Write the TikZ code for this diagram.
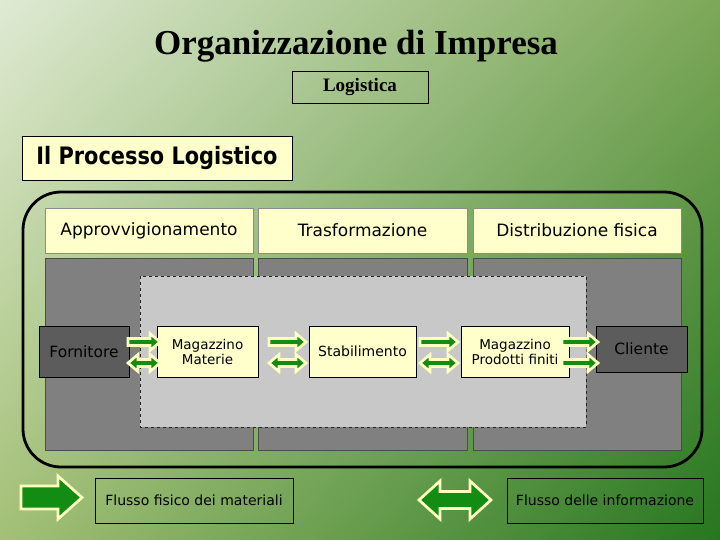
\documentclass[tikz,border=0pt]{standalone}
\usepackage{fontspec}
\usepackage{graphicx}
\usetikzlibrary{shadings}
\setmainfont{Liberation Serif}
\newfontfamily\dv{DejaVu Sans}
\definecolor{paley}{HTML}{FFFFCC}
\definecolor{arrowy}{HTML}{FFFFC0}
\definecolor{agreen}{HTML}{128C12}
\definecolor{colgray}{HTML}{808080}
\definecolor{dashgray}{HTML}{C8C8C8}
\definecolor{darkbox}{HTML}{5C5C5C}
\definecolor{bgul}{RGB}{223,234,211}
\definecolor{bgur}{RGB}{125,168,88}
\definecolor{bgll}{RGB}{163,192,118}
\definecolor{bglr}{RGB}{38,118,32}
\newcommand\myRArr[6]{% x1 x2 yc s h L
  \filldraw[arrowsty] (#1,#3-#4) -- (#2-#6,#3-#4) -- (#2-#6,#3-#5) -- (#2,#3)
    -- (#2-#6,#3+#5) -- (#2-#6,#3+#4) -- (#1,#3+#4) -- cycle;}
\newcommand\myDArr[6]{% x1 x2 yc s h L
  \filldraw[arrowsty] (#1,#3) -- (#1+#6,#3-#5) -- (#1+#6,#3-#4) -- (#2-#6,#3-#4)
    -- (#2-#6,#3-#5) -- (#2,#3) -- (#2-#6,#3+#5) -- (#2-#6,#3+#4)
    -- (#1+#6,#3+#4) -- (#1+#6,#3+#5) -- cycle;}
\begin{document}
\begin{tikzpicture}[x=1pt,y=-1pt,
  arrowsty/.style={fill=agreen,draw=arrowy,line width=2.7pt,line join=miter},
  head/.style={fill=paley,draw=black!45,line width=0.6pt,inner sep=0pt,
    font=\dv\fontsize{17}{20}\selectfont},
  col/.style={fill=colgray,draw=black!70,line width=0.6pt},
  stepbox/.style={fill=paley,draw=black,line width=0.8pt,inner sep=0pt,align=center,
    font=\dv\fontsize{13.5}{15}\selectfont},
  endbox/.style={fill=darkbox,draw=black,line width=0.8pt,inner sep=0pt,
    font=\dv\fontsize{15.5}{18}\selectfont},
  legbox/.style={draw=black,line width=0.8pt,inner sep=0pt,
    font=\dv\fontsize{14}{16}\selectfont}]
\useasboundingbox (0,0) rectangle (720,540);
\shade[upper left=bgul, upper right=bgur, lower left=bgll, lower right=bglr]
  (0,0) rectangle (720,540);
% titles
\node[anchor=base] (title) at (356,55) {\fontsize{35}{40}\selectfont\bfseries Organizzazione di Impresa};
\node[draw=black,line width=0.8pt,minimum width=136,minimum height=32,inner sep=0pt]
  (logi) at (360,87) {\fontsize{19}{22}\selectfont\bfseries Logistica};
\node[fill=paley,draw=black,line width=0.8pt,minimum width=270,minimum height=44,inner sep=0pt]
  (proc) at (157,158) {\scalebox{0.87}[1]{\dv\fontsize{24}{28}\selectfont\bfseries Il Processo Logistico}};
% frame
\draw[line width=2.8pt,rounded corners=38pt] (23,192) rectangle (702,467);
% headers
\node[head,minimum width=208,minimum height=45] (app) at (149,230.5) {Approvvigionamento};
\node[head,minimum width=209,minimum height=45] (tra) at (362.5,230.5) {Trasformazione};
\node[head,minimum width=208,minimum height=45] (dis) at (577,230.5) {Distribuzione fisica};
% columns
\draw[col] (45,258) rectangle (253,450);
\draw[col] (258,258) rectangle (467,450);
\draw[col] (473,258) rectangle (681,450);
% dashed area
\draw[fill=dashgray,draw=black!85,dashed,line width=0.8pt] (140,276) rectangle (586,427);
% process boxes
\node[endbox,minimum width=90,minimum height=51] (forn) at (84,351.5) {Fornitore};
\node[stepbox,minimum width=101,minimum height=51] (magm) at (207.5,351.5) {Magazzino\\Materie};
\node[stepbox,minimum width=107,minimum height=51] (stab) at (362.5,351.5) {\fontsize{14}{16}\selectfont Stabilimento};
\node[stepbox,minimum width=108,minimum height=51] (magp) at (515,351.5) {Magazzino\\Prodotti finiti};
\node[endbox,minimum width=91,minimum height=46] (clie) at (641.5,349) {Cliente};
% small arrows
\myRArr{128}{160}{342}{3.5}{8.5}{10}
\myDArr{128}{160}{363}{3.5}{8.5}{10}
\myRArr{269}{306}{342}{3.5}{8.5}{10}
\myDArr{269}{306}{363}{3.5}{8.5}{10}
\myRArr{420}{458}{342}{3.5}{8.5}{10}
\myDArr{420}{458}{363}{3.5}{8.5}{10}
\myRArr{562}{598}{342}{3.5}{8.5}{10}
\myRArr{562}{598}{363}{3.5}{8.5}{10}
% legend
\myRArr{21}{82}{497.5}{11.5}{21.5}{24}
\node[legbox,minimum width=198,minimum height=45] (lf) at (194,500.5) {Flusso fisico dei materiali};
\myDArr{419}{491}{500}{8.5}{19}{21}
\node[legbox,minimum width=196,minimum height=45] (li) at (605,500.5) {Flusso delle informazione};
\end{tikzpicture}
\end{document}
